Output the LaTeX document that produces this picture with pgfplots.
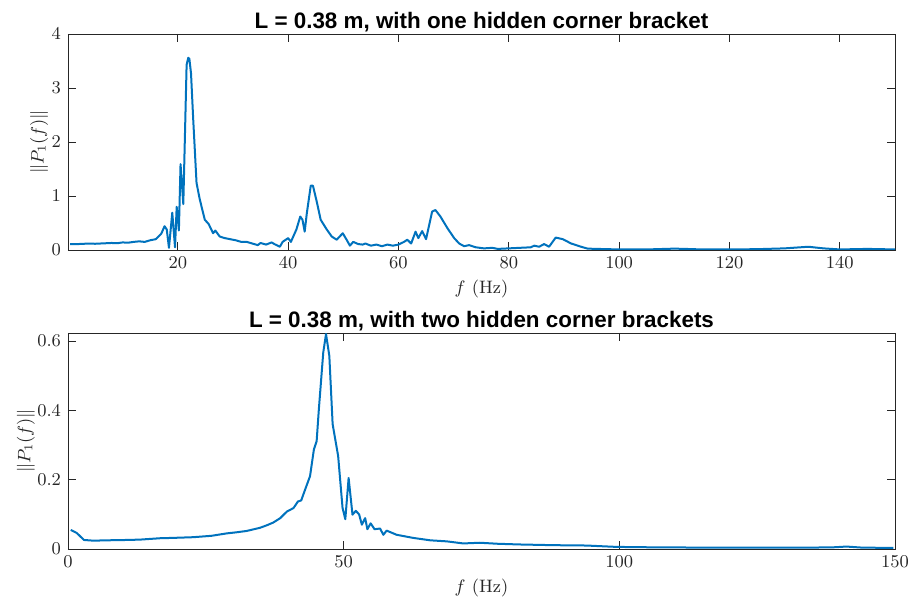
\documentclass[border=0pt]{standalone}
\usepackage{pgfplots}
\pgfplotsset{compat=1.18}
\usepackage{fontspec}
\newfontfamily\titlefont{Liberation Sans}
\definecolor{mblue}{rgb}{0,0.447,0.741}
\definecolor{axgray}{rgb}{0.15,0.15,0.15}

\pgfplotsset{
  matlab/.style={
    scale only axis,
    width=413.5pt,
    height=108pt,
    axis line style={axgray,line width=0.4pt},
    tick style={axgray,line width=0.4pt},
    tick align=inside,
    major tick length=4pt,
    xtick pos=both, ytick pos=both,
    ticklabel style={font=\small,text=axgray},
    label style={font=\small,text=axgray},
    title style={font=\titlefont\bfseries\fontsize{11.2}{13}\selectfont,yshift=-8.5pt},
    xlabel={$f$~(Hz)},
    ylabel={$\|P_1(f)\|$},
    xlabel style={yshift=1pt},
  },
  trace/.style={mblue,no marks,line width=1pt,line join=round},
}

\begin{document}
\begin{tikzpicture}
\useasboundingbox (-34pt,-24.5pt) rectangle (422pt,274.5pt);

\begin{axis}[matlab,
  at={(0,149.5pt)}, anchor=south west,
  title={L = 0.38 m, with one hidden corner bracket},
  ylabel style={at={(axis description cs:-0.035,0.5)},anchor=center},
  xmin=0.1, xmax=150, ymin=0, ymax=4,
  xtick={20,40,...,140},
  ytick={0,1,2,3,4},
]
\addplot[trace] coordinates {
(0.5,0.11) (1,0.11) (2,0.11) (3,0.115) (4,0.12) (5,0.115) (6,0.12) (7,0.125)
(8,0.13) (9,0.125) (10,0.14) (11,0.135) (12,0.15) (13,0.16) (14,0.15) (15,0.18)
(16,0.2) (16.5,0.25) (17,0.3) (17.6,0.44) (18,0.38) (18.4,0.04) (19,0.69)
(19.5,0.05) (19.8,0.8) (20.2,0.36) (20.5,1.59) (21,0.85) (21.6,3.43) (21.9,3.56)
(22.1,3.54) (22.4,3.27) (22.8,2.41) (23.4,1.24) (24,0.93) (24.9,0.56) (25.6,0.48)
(26.4,0.31) (26.8,0.36) (27.6,0.25) (28.5,0.22) (29.5,0.2) (30.5,0.18) (31.5,0.15)
(32.5,0.15) (33.5,0.12) (34.5,0.09) (35,0.13) (36,0.1) (37,0.14) (37.5,0.11)
(38.5,0.06) (39,0.15) (40,0.22) (40.5,0.15) (41.5,0.38) (42.2,0.62) (42.6,0.56)
(43,0.34) (43.4,0.69) (44.1,1.19) (44.5,1.19) (45.2,0.89) (45.9,0.56) (47,0.38)
(47.9,0.25) (48.8,0.19) (49.9,0.31) (50.6,0.19) (51.2,0.08) (51.8,0.15) (52.7,0.11)
(53.5,0.1) (54,0.12) (55,0.08) (56,0.1) (57,0.07) (58,0.1) (59,0.08) (60,0.1)
(61,0.15) (61.6,0.19) (62.3,0.12) (63.1,0.34) (63.6,0.22) (64.3,0.35) (65,0.2)
(66.1,0.71) (66.7,0.74) (67.6,0.62) (68.9,0.40) (70.1,0.22) (71,0.12) (71.9,0.07)
(72.8,0.09) (74,0.05) (75.5,0.03) (77,0.04) (78,0.02) (80,0.03) (82,0.04)
(84,0.05) (84.6,0.08) (85.5,0.06) (86.4,0.11) (87.3,0.06) (88.5,0.23) (89.8,0.2)
(91.3,0.12) (93.1,0.06) (94.3,0.025) (96,0.02) (100,0.01) (105,0.01) (110,0.025)
(112,0.02) (115,0.01) (120,0.01) (125,0.015) (130,0.03) (134.3,0.06) (137,0.03)
(140,0.01) (145,0.02) (150,0.01)
};
\end{axis}

\begin{axis}[matlab,
  at={(0,0)}, anchor=south west,
  title={L = 0.38 m, with two hidden corner brackets},
  ylabel style={at={(axis description cs:-0.051,0.5)},anchor=center},
  xmin=0, xmax=150, ymin=0, ymax=0.623,
  xtick={0,50,100,150},
  ytick={0,0.2,0.4,0.6},
]
\addplot[trace] coordinates {
(0.5,0.055) (1.6,0.046) (2.9,0.026) (4.6,0.024) (7,0.025) (10.6,0.026) (13,0.027)
(16.7,0.031) (19,0.032) (22.7,0.034) (26,0.038) (28.8,0.045) (30.5,0.048)
(32.4,0.052) (34.8,0.061) (36,0.068) (37.2,0.076) (38.5,0.089) (39.7,0.108)
(40.9,0.118) (41.7,0.137) (42.3,0.14) (43,0.171) (43.9,0.21) (44.6,0.287)
(45.1,0.311) (45.5,0.403) (46.3,0.567) (46.8,0.62) (47.4,0.557) (48,0.36)
(49,0.268) (49.8,0.118) (50.3,0.086) (50.9,0.205) (51.6,0.099) (52.2,0.11)
(52.8,0.10) (53.3,0.07) (53.9,0.089) (54.3,0.057) (54.9,0.074) (55.6,0.057)
(56.6,0.059) (57.2,0.041) (57.8,0.053) (59.6,0.041) (62.6,0.032) (65.7,0.025)
(68.7,0.022) (71.7,0.016) (74.7,0.018) (78,0.015) (82,0.013) (88,0.011)
(94,0.01) (99.5,0.006) (105,0.005) (115,0.004) (124,0.004) (135,0.004)
(139,0.005) (141.2,0.007) (144,0.004) (149.7,0.003)
};
\end{axis}
\end{tikzpicture}
\end{document}
